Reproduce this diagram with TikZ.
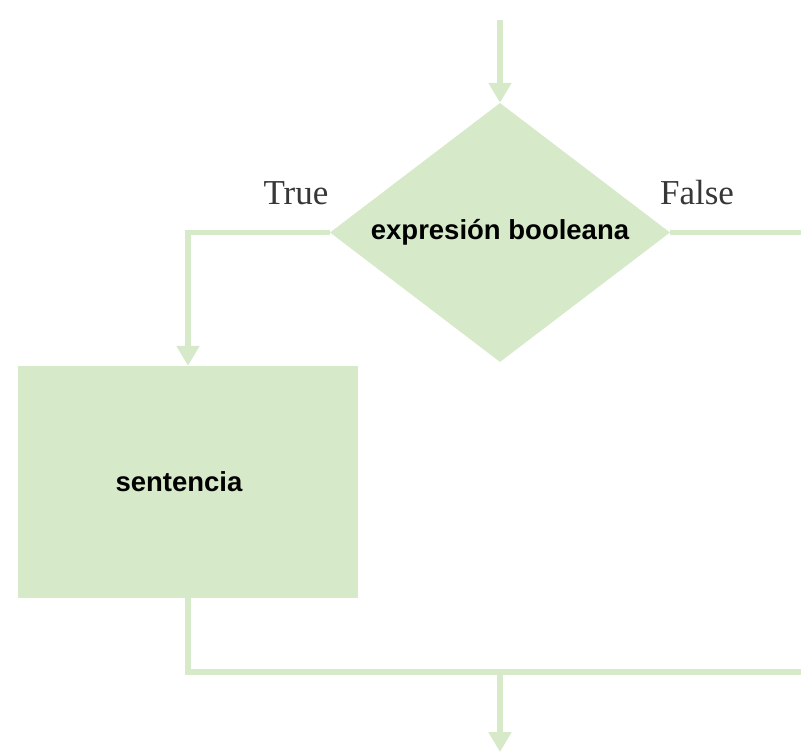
\documentclass[tikz,border=0pt]{standalone}
\usepackage{fontspec}
\setmainfont{Liberation Serif}
\setsansfont{Liberation Sans}
\usetikzlibrary{shapes.geometric,arrows.meta}
\definecolor{flowgreen}{RGB}{214,233,200}
\definecolor{labgray}{RGB}{55,55,55}

\begin{document}
\begin{tikzpicture}[x=1pt,y=-1pt,
  line/.style={draw=flowgreen,line width=5.5pt},
  flow/.style={line,-{Triangle[length=20pt,width=22pt]}},
  decision/.style={diamond,fill=flowgreen,inner sep=0pt,aspect=1.313,
    minimum width=340pt,minimum height=259pt,font=\sffamily\bfseries\fontsize{27.5}{32}\selectfont},
  stmtbox/.style={rectangle,fill=flowgreen,inner sep=0pt,
    minimum width=340pt,minimum height=232pt,font=\sffamily\bfseries\fontsize{27.5}{32}\selectfont},
  branch/.style={text=labgray,anchor=base,font=\fontsize{35}{40}\selectfont}]
\useasboundingbox (0,0) rectangle (801,754);

%draw nodes
\node[decision] (cond) at (500,232.5) {expresión booleana};
\node[stmtbox] (stmt) at (188,482) {sentencia\hspace*{18pt}};
\node[branch] (labtrue) at (296,205) {True};
\node[branch] (labfalse) at (697,205) {False};

%free ends of the connectors
\coordinate (start) at (500,20);
\coordinate (falseend) at (801,232.5);
\coordinate (joinend) at (801,672);
\coordinate (join) at (500,672);
\coordinate (finish) at (500,752);

%draw connectors
\draw[flow] (start) -- (cond.north);
\draw[flow] (cond.west) -| (stmt.north);
\draw[line] (cond.east) -- (falseend);
\draw[line] (stmt.south) |- (joinend);
\draw[flow] (join) -- (finish);
\end{tikzpicture}
\end{document}
